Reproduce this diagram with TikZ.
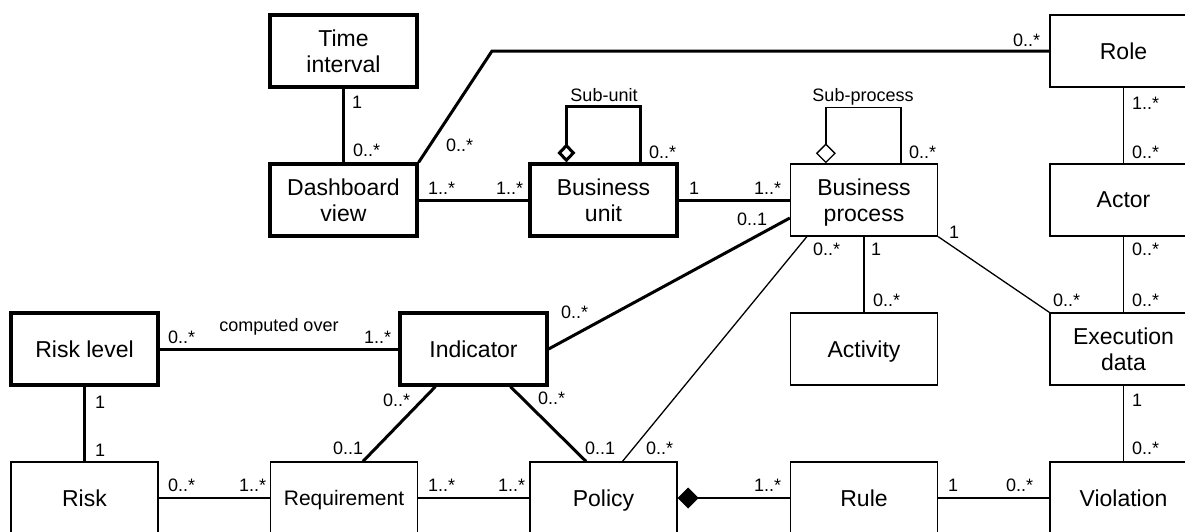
\documentclass[tikz,border=0pt]{standalone}
\usepackage{fontspec}
\setmainfont{Liberation Sans}
\usetikzlibrary{arrows.meta,calc}
\tikzset{
  cls/.style={draw, rectangle, minimum width=147pt, minimum height=72pt, inner sep=0pt,
    align=center, text depth=0pt, font=\fontsize{23}{26.5}\selectfont},
  clsthick/.style={cls, line width=3.2pt},
  clsthin/.style={cls, line width=1.3pt},
  heavy/.style={line width=3pt},
  light/.style={line width=1.3pt},
  mult/.style={anchor=west, inner sep=0pt, font=\fontsize{18}{20}\selectfont},
  rolename/.style={anchor=base, inner sep=0pt, font=\fontsize{18}{20}\selectfont},
  aggthick/.style={{Diamond[open,length=19pt,width=18pt]}-},
  aggthin/.style={{Diamond[open,length=20pt,width=20pt]}-},
  comp/.style={{Diamond[length=21pt,width=21pt]}-},
}
\begin{document}
\begin{tikzpicture}[x=1pt,y=-1pt]
\useasboundingbox (0,0) rectangle (1185,531);

% classes
\node[clsthick] (TI)  at (343.5,51)  {Time\\interval};
\node[clsthick] (DV)  at (343.5,200) {Dashboard\\view};
\node[clsthick] (BU)  at (603.5,200) {Business\\unit};
\node[clsthin]  (BP)  at (864,200)   {Business\\process};
\node[clsthin]  (Role) at (1123.5,51) {Role};
\node[clsthin]  (Act) at (1123.5,200) {Actor};
\node[clsthin]  (Ex)  at (1123.5,349) {Execution\\data};
\node[clsthin]  (Acv) at (864,349)   {Activity};
\node[clsthick] (RL)  at (84.5,349)  {Risk level};
\node[clsthick] (Ind) at (473.5,349) {Indicator};
\node[clsthin]  (Risk) at (84.5,498) {Risk};
\node[clsthin, font=\fontsize{21}{24}\selectfont] (Req) at (344,498) {Requirement};
\node[clsthin]  (Pol) at (603.5,498) {Policy};
\node[clsthin]  (Rule) at (864,498)  {Rule};
\node[clsthin]  (Vio) at (1123.5,498) {Violation};

% associations
\coordinate (dvbend) at (492,51);
\draw[heavy] (TI.south) -- (DV.north);
\draw[heavy] (DV.east) -- (BU.west);
\draw[heavy] (DV.north east) -- (dvbend) -- (Role.west);
\draw[heavy] (BU.east) -- (BP.west);
\draw[heavy, aggthick] ($(BU.north west)+(38,0)$) -- ++(0,-56) -| ($(BU.north west)+(112,0)$);
\draw[light, aggthin] ($(BP.north west)+(36,0)$) -- ++(0,-56) -| ($(BP.north west)+(111,0)$);
\draw[heavy] (Ind.east) -- ($(BP.west)+(0,18)$);
\draw[light] ($(BP.south west)+(17,0)$) -- ($(Pol.north)+(19,0)$);
\draw[light] (BP.south) -- (Acv.north);
\draw[light] (BP.south east) -- (Ex.north west);
\draw[light] (Role.south) -- (Act.north);
\draw[light] (Act.south) -- (Ex.north);
\draw[light] (Ex.south) -- (Vio.north);
\draw[heavy] (RL.east) -- (Ind.west);
\draw[heavy] (RL.south) -- (Risk.north);
\draw[light] (Risk.east) -- (Req.west);
\draw[heavy] ($(Req.north)+(19,0)$) -- ($(Ind.south west)+(37,0)$);
\draw[heavy] ($(Ind.south west)+(112,0)$) -- ($(Pol.north)+(-17.5,0)$);
\draw[light] (Req.east) -- (Pol.west);
\draw[light, comp] (Pol.east) -- (Rule.west);
\draw[light] (Rule.east) -- (Vio.west);

% role names
\node[rolename] (nsu) at (604,101) {Sub-unit};
\node[rolename] (nsp) at (863,101) {Sub-process};
\node[rolename] (nco) at (279,331.5) {computed over};

% multiplicities
\node[mult] (m1) at (352,102.5) {1};
\node[mult] (m2) at (353,150) {0..*};
\node[mult] (m3) at (446,145) {0..*};
\node[mult] (m4) at (428,188) {1..*};
\node[mult] (m5) at (496,188) {1..*};
\node[mult] (m6) at (649,152) {0..*};
\node[mult] (m7) at (689,188) {1};
\node[mult] (m8) at (754,188) {1..*};
\node[mult] (m9) at (737,219) {0..1};
\node[mult] (m10) at (1013,40) {0..*};
\node[mult] (m11) at (909,152) {0..*};
\node[mult] (m12) at (1132,103) {1..*};
\node[mult] (m13) at (1132,152) {0..*};
\node[mult] (m14) at (949,232) {1};
\node[mult] (m15) at (813,249) {0..*};
\node[mult] (m16) at (871,249) {1};
\node[mult] (m17) at (1132,249) {0..*};
\node[mult] (m18) at (168,337) {0..*};
\node[mult] (m19) at (364,337) {1..*};
\node[mult] (m20) at (95,402) {1};
\node[mult] (m21) at (95,450) {1};
\node[mult] (m22) at (168,485) {0..*};
\node[mult] (m23) at (239,485) {1..*};
\node[mult] (m24) at (333,448) {0..1};
\node[mult] (m25) at (383,400) {0..*};
\node[mult] (m26) at (561,312) {0..*};
\node[mult] (m27) at (538,398) {0..*};
\node[mult] (m28) at (585,448) {0..1};
\node[mult] (m29) at (646,448) {0..*};
\node[mult] (m30) at (428,485) {1..*};
\node[mult] (m31) at (498,485) {1..*};
\node[mult] (m32) at (754,485) {1..*};
\node[mult] (m33) at (873,300) {0..*};
\node[mult] (m34) at (1053,300) {0..*};
\node[mult] (m35) at (1132,300) {0..*};
\node[mult] (m36) at (1132,400) {1};
\node[mult] (m37) at (1132,448) {0..*};
\node[mult] (m38) at (948,485) {1};
\node[mult] (m39) at (1006,485) {0..*};
\end{tikzpicture}
\end{document}
